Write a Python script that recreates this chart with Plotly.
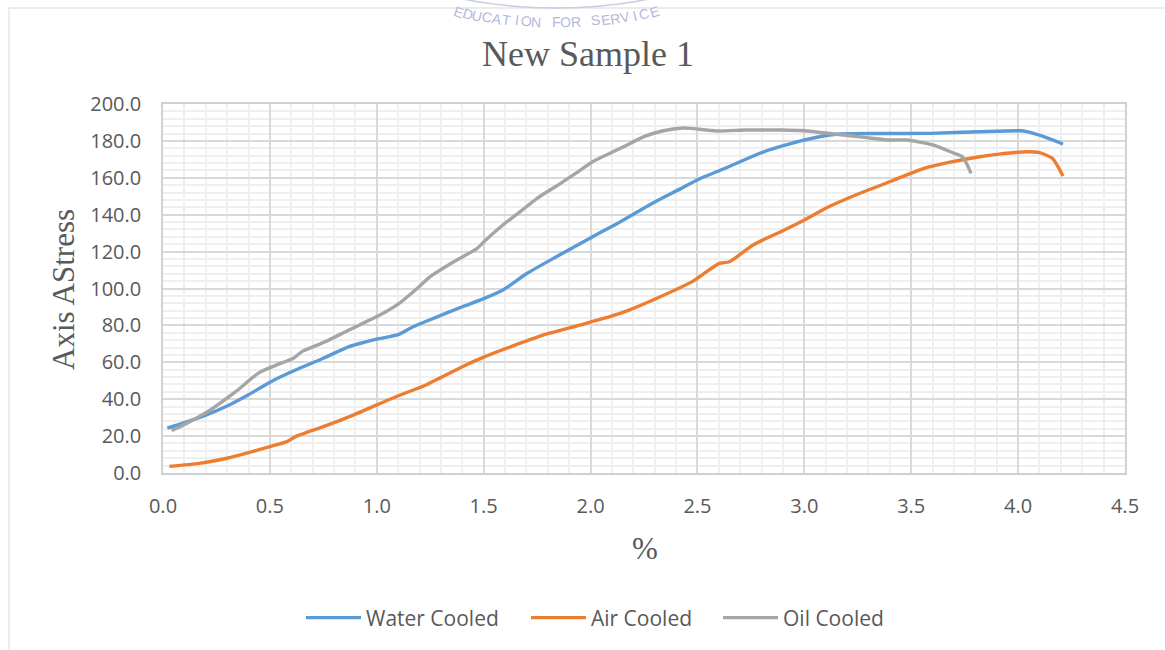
import math
import plotly.graph_objects as go

# ---------------- data ----------------
water_x = [0.02, 0.09, 0.20, 0.31, 0.40, 0.47, 0.52, 0.62, 0.75, 0.87, 0.94, 1.01, 1.10, 1.17,
           1.28, 1.40, 1.50, 1.59, 1.70, 1.84, 2.01, 2.14, 2.29, 2.42, 2.51, 2.61, 2.81, 3.00,
           3.15, 3.36, 3.59, 3.82, 4.01, 4.04, 4.12, 4.21]
water_y = [24.3, 26.9, 31.4, 36.9, 42.4, 47.2, 50.4, 55.8, 62.2, 68.5, 70.8, 72.8, 75.0, 79.3,
           84.5, 90.1, 94.5, 99.2, 108.0, 117.2, 128.1, 136.2, 146.2, 154.0, 159.5, 164.2, 174.1, 180.5,
           183.6, 184.0, 184.1, 185.0, 185.5, 185.0, 182.3, 178.3]

air_x = [0.03, 0.17, 0.30, 0.40, 0.50, 0.58, 0.62, 0.76, 0.89, 1.00, 1.11, 1.23, 1.40, 1.50,
         1.64, 1.80, 1.95, 2.09, 2.18, 2.31, 2.48, 2.60, 2.65, 2.76, 2.89, 3.00, 3.10, 3.26,
         3.42, 3.56, 3.67, 3.82, 3.92, 4.04, 4.10, 4.16, 4.21]
air_y = [3.6, 5.2, 8.0, 11.0, 14.3, 17.0, 19.7, 25.5, 31.4, 36.9, 42.3, 47.7, 57.6, 62.8,
         69.0, 75.5, 80.2, 84.7, 88.3, 94.7, 104.0, 113.5, 114.5, 123.6, 130.8, 137.1, 143.5, 151.6,
         158.8, 165.1, 168.2, 171.4, 173.0, 174.1, 173.6, 170.6, 161.0]

oil_x = [0.04, 0.11, 0.22, 0.34, 0.45, 0.53, 0.61, 0.65, 0.76, 0.87, 1.01, 1.10, 1.19, 1.25,
         1.36, 1.47, 1.51, 1.59, 1.68, 1.75, 1.86, 1.93, 2.01, 2.14, 2.25, 2.34, 2.43, 2.47,
         2.59, 2.73, 2.89, 3.00, 3.15, 3.28, 3.39, 3.48, 3.60, 3.70, 3.74, 3.78]
oil_y = [23.0, 26.9, 34.1, 44.1, 54.4, 58.5, 62.2, 65.8, 71.2, 77.5, 85.3, 91.5, 100.1, 106.4,
         114.5, 121.8, 126.3, 134.4, 142.5, 148.9, 157.0, 162.4, 168.7, 176.0, 182.3, 185.5, 187.0, 186.8,
         185.4, 185.9, 185.9, 185.5, 183.6, 181.9, 180.5, 180.5, 177.8, 173.3, 171.4, 162.4]

series_names = ["Water Cooled", "Air Cooled", "Oil Cooled"]
series_colors = ["#5B9BD5", "#ED7D31", "#A5A5A5"]

chart_title = "New Sample 1"
y_title = "Axis AStress"
x_title = "%"
logo_text = "EDUCATION FOR SERVICE"

# ---------------- layout helpers ----------------
W, H = 1165, 650
ML, MR, MT, MB = 163, 40, 104, 177
PW, PH = W - ML - MR, H - MT - MB


def px2x(px):
    return (px - ML) / PW


def py2y(py):
    return (H - MB - py) / PH


legend_ids = ["legend", "legend2", "legend3"]
legend_left_px = [301, 526, 718]

fig = go.Figure()
for xs, ys, name, col, lid in zip([water_x, air_x, oil_x], [water_y, air_y, oil_y],
                                   series_names, series_colors, legend_ids):
    fig.add_trace(go.Scatter(x=xs, y=ys, mode="lines", name=name, legend=lid,
                             line=dict(color=col, width=3.4, shape="spline", smoothing=0.6)))

tick_font = dict(family="Open Sans", size=20, color="#595959")
serif = "Liberation Serif"

fig.update_xaxes(range=[0, 4.5], dtick=0.5, tick0=0, tickformat=".1f",
                 showgrid=True, gridcolor="#d9d9d9", gridwidth=1.5,
                 minor=dict(dtick=0.1, showgrid=True, gridcolor="#efefef", gridwidth=1.5),
                 showline=True, linecolor="#d0d0d0", linewidth=1.5, mirror=True,
                 zeroline=False, ticks="", tickfont=tick_font, ticklabelstandoff=14)
fig.update_yaxes(range=[0, 200], dtick=20, tick0=0, tickformat=".1f",
                 showgrid=True, gridcolor="#d9d9d9", gridwidth=1.5,
                 minor=dict(dtick=4, showgrid=True, gridcolor="#efefef", gridwidth=1.5),
                 showline=True, linecolor="#d0d0d0", linewidth=1.5, mirror=True,
                 zeroline=False, ticks="", tickfont=tick_font, ticklabelstandoff=16)

annotations = [
    dict(text=y_title, x=px2x(63), y=py2y(290), xref="paper", yref="paper",
         showarrow=False, textangle=-90, xanchor="center", yanchor="middle",
         font=dict(family=serif, size=31, color="#595959")),
    dict(text=x_title, x=px2x(645), y=py2y(548), xref="paper", yref="paper",
         showarrow=False, xanchor="center", yanchor="middle",
         font=dict(family=serif, size=31, color="#595959")),
]

# faint watermark lettering on a shallow arc
cx, cy, r = 556, -478, 500
n = len(logo_text)
tmax = math.degrees(math.asin(98 / r))
for i, ch in enumerate(logo_text):
    if ch == " ":
        continue
    th = -tmax + 2 * tmax * i / (n - 1)
    t = math.radians(th)
    lx = cx + r * math.sin(t)
    ly = cy + r * math.cos(t)
    annotations.append(dict(text=ch, x=px2x(lx), y=py2y(ly), xref="paper", yref="paper",
                            showarrow=False, textangle=-th * 1.6, xanchor="center", yanchor="middle",
                            font=dict(family="Liberation Sans", size=14, color="#b3b8d9")))

shapes = [
    dict(type="rect", xref="paper", yref="paper", x0=px2x(9), x1=px2x(1190), y0=py2y(680), y1=py2y(8),
         line=dict(color="#d9d9d9", width=1), fillcolor="rgba(0,0,0,0)", layer="below"),
]
for rr in (486, 472):
    pts = []
    for k in range(41):
        t = math.radians(-14 + 0.7 * k)
        pts.append((cx + rr * math.sin(t), cy + rr * math.cos(t)))
    path = "M " + " L ".join(f"{px2x(a):.4f},{py2y(b):.4f}" for a, b in pts)
    shapes.append(dict(type="path", xref="paper", yref="paper", path=path,
                       line=dict(color="#c9cce2", width=1.5)))

legend_common = dict(orientation="h", y=py2y(618), xanchor="left", yanchor="middle",
                     font=dict(family="Open Sans", size=21, color="#595959"), itemwidth=55,
                     bgcolor="rgba(0,0,0,0)", borderwidth=0)

fig.update_layout(
    width=W, height=H, autosize=False,
    margin=dict(l=ML, r=MR, t=MT, b=MB),
    paper_bgcolor="white", plot_bgcolor="white",
    title=dict(text=chart_title, x=588 / W, y=1 - 53 / H, xref="container", yref="container",
               xanchor="center", yanchor="middle",
               font=dict(family=serif, size=36, color="#595959")),
    legend=dict(x=px2x(legend_left_px[0]), **legend_common),
    legend2=dict(x=px2x(legend_left_px[1]), **legend_common),
    legend3=dict(x=px2x(legend_left_px[2]), **legend_common),
    annotations=annotations,
    shapes=shapes,
    showlegend=True,
)

fig.write_html("out.html")
